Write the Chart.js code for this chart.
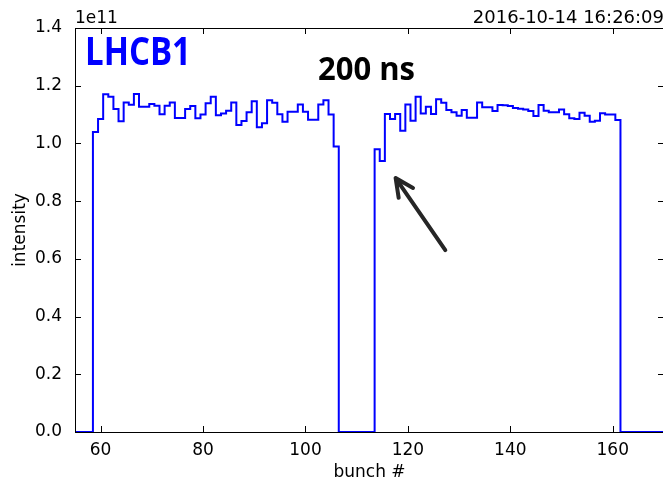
<!DOCTYPE html>
<html>
<head>
<meta charset="utf-8">
<script src="https://cdn.jsdelivr.net/npm/chart.js@4.4.1/dist/chart.umd.min.js"></script>
<style>
  html, body { margin: 0; padding: 0; overflow: hidden; background: #fff; }
  canvas { display: block; }
</style>
</head>
<body>
<canvas id="bunchChart" width="670" height="485"></canvas>
<script>
// bunch number of the first value below, then one intensity (x1e11) per bunch
const firstBunch = 55;
const intensity = [
  0, 0, 0, 0,
  // first train, bunches 59-106
  1.040, 1.085, 1.170, 1.162, 1.119, 1.077, 1.142, 1.134, 1.171, 1.127,
  1.127, 1.137, 1.131, 1.101, 1.131, 1.142, 1.088, 1.088, 1.119, 1.130,
  1.087, 1.100, 1.139, 1.162, 1.098, 1.104, 1.113, 1.142, 1.064, 1.078,
  1.108, 1.146, 1.056, 1.070, 1.150, 1.141, 1.101, 1.075, 1.110, 1.110,
  1.135, 1.110, 1.082, 1.082, 1.135, 1.150, 1.100, 0.989,
  0, 0, 0, 0, 0, 0, 0,
  // second train, bunches 114-161
  0.980, 0.939, 1.102, 1.085, 1.102, 1.044, 1.135, 1.079, 1.162, 1.104,
  1.127, 1.102, 1.153, 1.141, 1.116, 1.108, 1.096, 1.116, 1.089, 1.089,
  1.142, 1.125, 1.125, 1.112, 1.133, 1.132, 1.130, 1.123, 1.120, 1.118,
  1.112, 1.095, 1.133, 1.113, 1.108, 1.108, 1.118, 1.101, 1.087, 1.085,
  1.106, 1.096, 1.075, 1.079, 1.105, 1.100, 1.100, 1.081,
  0, 0, 0, 0, 0, 0, 0, 0, 0
];

const xTicks = [60, 80, 100, 120, 140, 160];
const yTicks = [0, 0.2, 0.4, 0.6, 0.8, 1.0, 1.2, 1.4];
const xRange = [55, 170];
const yRange = [0, 1.4];

const beamLabel = 'LHCB1';
const spacingLabel = '200 ns';
const timeStamp = '2016-10-14 16:26:09';
const offsetLabel = '1e11';

// arrow in data units: tail -> tip
const arrowFrom = { x: 127.3, y: 0.63 };
const arrowTo = { x: 117.6, y: 0.88 };

const points = intensity.map((v, i) => ({ x: firstBunch + i, y: v }));

const axisFont = { family: 'DejaVu Sans', size: 17 };
const tickLen = 6;

const overlay = {
  id: 'overlay',
  afterDatasetsDraw(chart) {
    const { ctx, chartArea: a, scales: { x, y } } = chart;
    ctx.save();

    // frame + inward ticks (all four sides)
    ctx.strokeStyle = '#000';
    ctx.lineWidth = 1;
    ctx.strokeRect(a.left + 0.5, a.top + 0.5, a.right - a.left, a.bottom - a.top);
    ctx.beginPath();
    xTicks.forEach(v => {
      const px = Math.round(x.getPixelForValue(v)) + 0.5;
      ctx.moveTo(px, a.bottom); ctx.lineTo(px, a.bottom - tickLen);
      ctx.moveTo(px, a.top); ctx.lineTo(px, a.top + tickLen);
    });
    yTicks.forEach(v => {
      const py = Math.round(y.getPixelForValue(v)) + 0.5;
      ctx.moveTo(a.left, py); ctx.lineTo(a.left + tickLen, py);
      ctx.moveTo(a.right, py); ctx.lineTo(a.right - tickLen, py);
    });
    ctx.stroke();

    // arrow
    const x0 = x.getPixelForValue(arrowFrom.x), y0 = y.getPixelForValue(arrowFrom.y);
    const x1 = x.getPixelForValue(arrowTo.x), y1 = y.getPixelForValue(arrowTo.y);
    const ang = Math.atan2(y1 - y0, x1 - x0);
    const head = 20;
    ctx.strokeStyle = '#262626';
    ctx.lineWidth = 4;
    ctx.lineCap = 'round';
    ctx.lineJoin = 'round';
    ctx.beginPath();
    ctx.moveTo(x0, y0);
    ctx.lineTo(x1, y1);
    ctx.moveTo(x1 - head * Math.cos(ang - 0.45), y1 - head * Math.sin(ang - 0.45));
    ctx.lineTo(x1, y1);
    ctx.lineTo(x1 - head * Math.cos(ang + 0.45), y1 - head * Math.sin(ang + 0.45));
    ctx.stroke();

    // annotations
    ctx.textBaseline = 'alphabetic';
    ctx.textAlign = 'left';
    ctx.fillStyle = '#0000ff';
    ctx.font = 'bold 40px "Open Sans"';
    ctx.fillText(beamLabel, a.left + 10, a.top + 37, 106);
    ctx.fillStyle = '#000';
    ctx.font = 'bold 33px "Open Sans"';
    ctx.fillText(spacingLabel, a.left + 243, a.top + 52, 97);

    ctx.fillStyle = '#000';
    ctx.font = '17px "DejaVu Sans"';
    ctx.fillText(offsetLabel, a.left, a.top - 5);
    ctx.textAlign = 'right';
    ctx.font = '18px "DejaVu Sans"';
    ctx.fillText(timeStamp, a.right, a.top - 5);
    ctx.restore();
  }
};

new Chart(document.getElementById('bunchChart'), {
  type: 'line',
  data: {
    datasets: [{
      data: points,
      stepped: 'middle',
      borderColor: '#0000ff',
      borderWidth: 2,
      pointRadius: 0,
      fill: false
    }]
  },
  options: {
    responsive: false,
    animation: false,
    layout: { padding: { top: 28, right: 6, left: 0, bottom: 0 } },
    plugins: { legend: { display: false }, tooltip: { enabled: false } },
    scales: {
      x: {
        type: 'linear',
        min: xRange[0],
        max: xRange[1],
        afterBuildTicks: s => { s.ticks = xTicks.map(v => ({ value: v })); },
        afterFit: s => { s.height = 53; },
        grid: { display: false, drawTicks: false },
        border: { display: false },
        ticks: { color: '#000', font: axisFont, padding: 8, maxRotation: 0, autoSkip: false },
        title: { display: true, text: 'bunch #', color: '#000', font: axisFont, padding: { top: 0, bottom: 2 } }
      },
      y: {
        min: yRange[0],
        max: yRange[1],
        afterBuildTicks: s => { s.ticks = yTicks.map(v => ({ value: v })); },
        afterFit: s => { s.width = 75; },
        grid: { display: false, drawTicks: false },
        border: { display: false },
        ticks: { color: '#000', font: axisFont, padding: 13, callback: v => v.toFixed(1) },
        title: { display: true, text: 'intensity', color: '#000', font: axisFont, padding: { top: 10, bottom: 0 } }
      }
    }
  },
  plugins: [overlay]
});
</script>
</body>
</html>
